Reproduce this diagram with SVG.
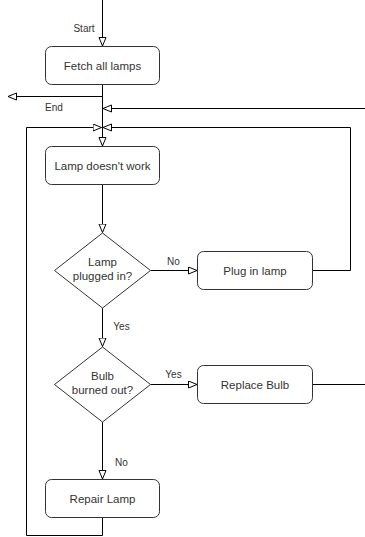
<svg xmlns="http://www.w3.org/2000/svg" width="365" height="537" viewBox="0 0 365 537">
<style>
.box{fill:#fff;stroke:#333;stroke-width:1}
.t{font-family:"Liberation Sans",Arial,sans-serif;font-size:11.5px;fill:#333;text-anchor:middle}
.l{font-family:"Liberation Sans",Arial,sans-serif;font-size:10px;fill:#333;text-anchor:middle}
.c{fill:none;stroke:#000;stroke-width:1}
</style>
<defs>
<marker id="a" markerWidth="11" markerHeight="9" refX="9" refY="4" orient="auto" markerUnits="userSpaceOnUse">
<path d="M0.5,0.5 L9,4 L0.5,7.5 Z" fill="#fff" stroke="#000" stroke-width="1"/>
</marker>
</defs>
<g id="connectors">
<path class="c" d="M102.5,0 V46" marker-end="url(#a)"/>
<path class="c" d="M102.5,84.5 V146" marker-end="url(#a)"/>
<path class="c" d="M102.5,96.5 H8" marker-end="url(#a)"/>
<path class="c" d="M365,108.5 H103" marker-end="url(#a)"/>
<path class="c" d="M312.5,270.5 H350.5 V127.5 H103" marker-end="url(#a)"/>
<path class="c" d="M102.5,517.5 V535.5 H26.5 V127.5 H101.5" marker-end="url(#a)"/>
<path class="c" d="M102.5,184.5 V232.5" marker-end="url(#a)"/>
<path class="c" d="M150.5,270.5 H197" marker-end="url(#a)"/>
<path class="c" d="M102.5,308 V346.5" marker-end="url(#a)"/>
<path class="c" d="M150.5,384.5 H197" marker-end="url(#a)"/>
<path class="c" d="M312.5,384.5 H365"/>
<path class="c" d="M102.5,422 V479" marker-end="url(#a)"/>
<text class="l" x="84" y="31.5">Start</text>
<text class="l" x="54" y="110.5">End</text>
<text class="l" x="173.5" y="264.5">No</text>
<text class="l" x="121.5" y="330">Yes</text>
<text class="l" x="173.5" y="378">Yes</text>
<text class="l" x="121.5" y="466">No</text>
</g>
<g id="fetch">
<rect class="box" x="45.5" y="46.5" width="114" height="38" rx="6"/>
<text class="t" x="102.5" y="69.5">Fetch all lamps</text>
</g>
<g id="doesnt-work">
<rect class="box" x="45.5" y="146.5" width="114" height="38" rx="6"/>
<text class="t" x="102.5" y="169.5">Lamp doesn't work</text>
</g>
<g id="plugged">
<path class="box" d="M102.5,233 L150.5,270.5 L102.5,308 L54.5,270.5 Z"/>
<text class="t" x="102.5" y="265.5">Lamp</text>
<text class="t" x="102.5" y="280">plugged in?</text>
</g>
<g id="plug-in">
<rect class="box" x="197.5" y="251.5" width="115" height="38" rx="6"/>
<text class="t" x="255" y="274.5">Plug in lamp</text>
</g>
<g id="burned">
<path class="box" d="M102.5,347 L150.5,384.5 L102.5,422 L54.5,384.5 Z"/>
<text class="t" x="102.5" y="379.5">Bulb</text>
<text class="t" x="102.5" y="393.5">burned out?</text>
</g>
<g id="replace">
<rect class="box" x="197.5" y="365.5" width="115" height="38" rx="6"/>
<text class="t" x="255" y="388.5">Replace Bulb</text>
</g>
<g id="repair">
<rect class="box" x="45.5" y="479.5" width="114" height="38" rx="6"/>
<text class="t" x="102.5" y="502.5">Repair Lamp</text>
</g>
</svg>
